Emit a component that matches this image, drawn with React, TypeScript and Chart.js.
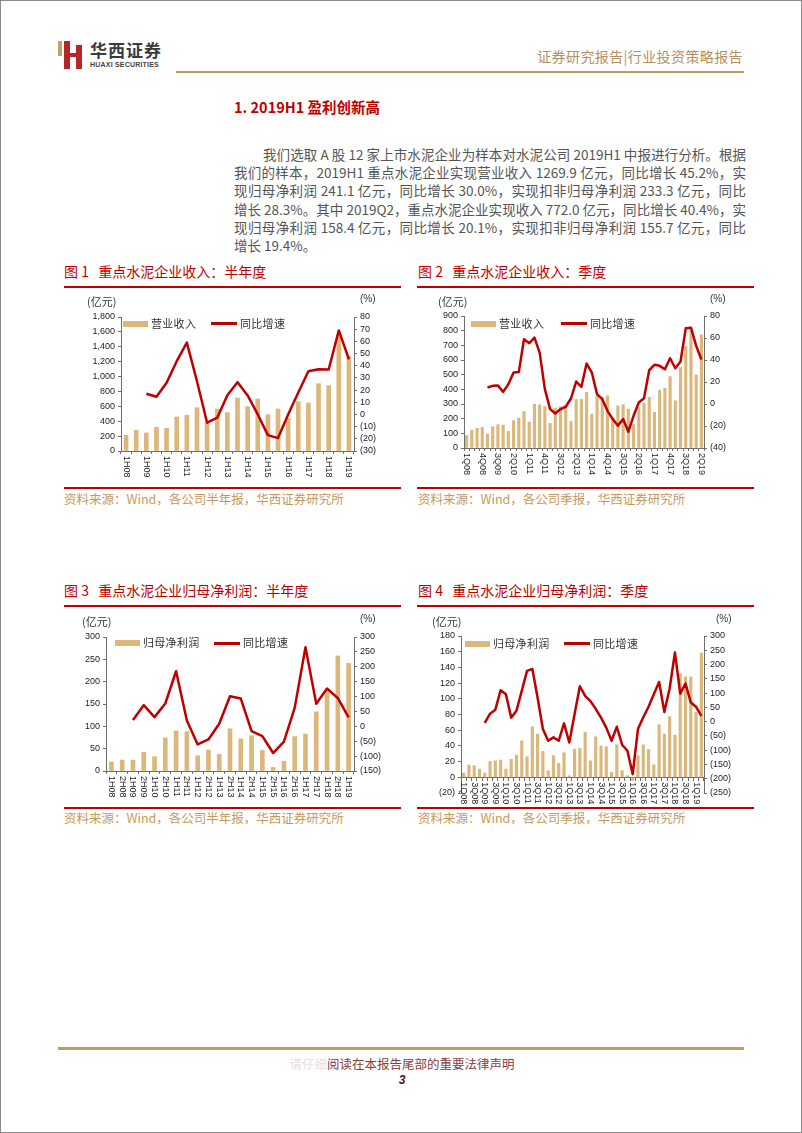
import React, { useEffect, useRef } from "react";
import { Chart, registerables } from "chart.js";
Chart.register(...registerables);

// ---------------- DATA ----------------
const HALF_CATS = ["1H08","2H08","1H09","2H09","1H10","2H10","1H11","2H11","1H12","2H12","1H13","2H13","1H14","2H14","1H15","2H15","1H16","2H16","1H17","2H17","1H18","2H18","1H19"];
const QUARTER_CATS = ["1Q08","2Q08","3Q08","4Q08","1Q09","2Q09","3Q09","4Q09","1Q10","2Q10","3Q10","4Q10","1Q11","2Q11","3Q11","4Q11","1Q12","2Q12","3Q12","4Q12","1Q13","2Q13","3Q13","4Q13","1Q14","2Q14","3Q14","4Q14","1Q15","2Q15","3Q15","4Q15","1Q16","2Q16","3Q16","4Q16","1Q17","2Q17","3Q17","4Q17","1Q18","2Q18","3Q18","4Q18","1Q19","2Q19"];

// Fig 1: revenue, half-year (亿元) and YoY (%)
const REV_HALF = [210,278,242,318,304,457,479,582,385,564,515,712,596,699,488,564,440,663,645,905,878,1567,1270];
const REV_HALF_YOY = [null,null,17,14.5,26,43.7,59,27.3,-6.8,-2.7,15.8,26.5,15.6,0,-17,-19.4,0,18,35.5,37.1,36.9,69,45.2];

// Fig 2: revenue, quarterly
const REV_Q = [84,122,134,140,95,145,159,156,113,186,204,249,177,299,295,283,168,272,281,281,181,331,331,379,231,356,345,356,210,288,295,265,160,277,306,345,243,394,408,487,322,549,694,800,498,772];
const REV_Q_YOY = [null,null,null,null,15,16.5,16.8,11,18,28.6,29,58.8,55.2,60.4,46.7,13.5,-4.6,-8.6,-4.6,-2.5,5,20.4,15.6,36.8,28.6,9,4.4,-6.2,-13.7,-19.8,-13.7,-25.2,-10.7,1.4,5.3,30.7,35.6,34.7,31.6,41.6,32.5,38.6,68.8,69.4,52.8,40.4];

// Fig 3: net profit attributable, half-year
const NP_HALF = [20,24.6,24.6,42,32,74,90,88,34,47,37,94.5,72,79,46,8,22,77,82.6,132.5,178.7,257.6,241.1];
const NP_HALF_YOY = [null,null,21,71,31,76.7,185,19.7,-60.7,-44,8.6,101,93.4,-16,-32.7,-89.7,-51.7,62,265.4,75.6,127,94.5,30];

// Fig 4: net profit attributable, quarterly
const NP_Q = [5.4,15.6,14.7,10.5,5.4,20.2,21,22,10.5,22.8,28.3,46.5,26.2,64.3,55,33,8.4,27.5,17.7,31.3,2,36,36.8,57.5,21,51.6,40,39,6.3,41.4,8.4,2,-4,27.5,41.4,35.5,16,66.9,55,77.5,53.7,132,127.9,127.9,82.7,158.4];
const NP_Q_YOY = [null,null,null,null,-4,28,42,110,96,14,38,108,178,185,84,-26,-67,-55,-67,-6,-73,26,124,90,72,45,14,-21,-67,-18,-81,-102,-184,-26,15,52,96,139,34,117,242,98,133,67,52,20];

// axis ranges [min, max, step]
const AX1_LEFT = [0, 1800, 200];
const AX1_RIGHT = [-30, 80, 10];
const AX2_LEFT = [0, 900, 100];
const AX2_RIGHT = [-40, 80, 20];
const AX3_LEFT = [0, 300, 50];
const AX3_RIGHT = [-150, 300, 50];
const AX4_LEFT = [-20, 180, 20];
const AX4_RIGHT = [-250, 300, 50];

// ---------------- STYLE ----------------
const RED = "#c00000";
const TAN = "#dcb77c";
const AXIS = "#6e6e6e";
const TICK = "#222222";
const NUM_FONT = "'Liberation Sans', Arial, sans-serif";
const CJK = "'Noto Sans CJK SC', sans-serif";
const LABELS_CW = true;

const fmtNum = (v: number) => {
  const a = Math.abs(v);
  let s = a >= 1000 ? `${Math.floor(a / 1000)},${String(a % 1000).padStart(3, "0")}` : String(a);
  return v < 0 ? `(${s})` : s;
};

type Cfg = {
  left: number; top: number; width: number; height: number;
  pl: number; pr: number; pt: number; pb: number;
  cats: string[]; bars: number[]; line: (number | null)[];
  yl: number[]; yr: number[]; every: number; barW: number; zero?: boolean;
};

function ComboChart({ cfg }: { cfg: Cfg }) {
  const ref = useRef<HTMLCanvasElement>(null);
  useEffect(() => {
    const labelPlugin = {
      id: "xLabelsRot",
      afterDraw(chart: any) {
        const ctx = chart.ctx;
        const xs = chart.scales.x;
        const ys = chart.scales.y;
        const base = cfg.zero ? ys.getPixelForValue(0) : chart.chartArea.bottom;
        ctx.save();
        ctx.font = `9px ${NUM_FONT}`;
        ctx.fillStyle = TICK;
        ctx.textBaseline = "middle";
        cfg.cats.forEach((lab, i) => {
          if (i % cfg.every !== 0) return;
          const x = xs.getPixelForValue(i);
          ctx.save();
          ctx.translate(x, base + 5);
          if (LABELS_CW) { ctx.rotate(Math.PI / 2); ctx.textAlign = "left"; }
          else { ctx.rotate(-Math.PI / 2); ctx.textAlign = "right"; }
          ctx.fillText(lab, 0, 0);
          ctx.restore();
        });
        ctx.restore();
      },
    };
    const tickFont = { family: NUM_FONT, size: 9 };
    const gridOpts = { display: true, drawOnChartArea: false, drawTicks: true, tickLength: 3, color: AXIS, lineWidth: 1 };
    const chart = new Chart(ref.current as HTMLCanvasElement, {
      type: "bar",
      data: {
        labels: cfg.cats,
        datasets: [
          { type: "line", data: cfg.line, yAxisID: "y1", borderColor: RED, backgroundColor: RED, borderWidth: 2.5, pointRadius: 0, tension: 0, order: 0, borderJoinStyle: "round" } as any,
          { type: "bar", data: cfg.bars, yAxisID: "y", backgroundColor: TAN, barThickness: cfg.barW, order: 1 } as any,
        ],
      },
      options: {
        animation: false,
        responsive: false,
        maintainAspectRatio: false,
        layout: { padding: { top: cfg.pt, left: 0, right: 0, bottom: cfg.zero ? cfg.pb : 0 } },
        plugins: { legend: { display: false }, tooltip: { enabled: false } },
        scales: {
          x: {
            position: cfg.zero ? ({ y: 0 } as any) : "bottom",
            offset: true,
            grid: { ...gridOpts, offset: true },
            border: { display: true, color: AXIS, width: 1 },
            ticks: { display: false, autoSkip: false },
            afterFit: cfg.zero ? undefined : (s: any) => { s.height = cfg.pb; },
          },
          y: {
            position: "left",
            min: cfg.yl[0], max: cfg.yl[1],
            ticks: { stepSize: cfg.yl[2], autoSkip: false, font: tickFont, color: TICK, padding: 3, callback: (v: any) => fmtNum(Number(v)) },
            grid: gridOpts,
            border: { display: true, color: AXIS, width: 1 },
            afterFit: (s: any) => { s.width = cfg.pl; },
          },
          y1: {
            position: "right",
            min: cfg.yr[0], max: cfg.yr[1],
            ticks: { stepSize: cfg.yr[2], autoSkip: false, font: tickFont, color: TICK, padding: 3, callback: (v: any) => fmtNum(Number(v)) },
            grid: gridOpts,
            border: { display: true, color: AXIS, width: 1 },
            afterFit: (s: any) => { s.width = cfg.pr; },
          },
        },
      } as any,
      plugins: [labelPlugin],
    });
    return () => chart.destroy();
  }, []);
  return (
    <canvas
      ref={ref}
      width={cfg.width}
      height={cfg.height}
      style={{ position: "absolute", left: cfg.left, top: cfg.top, width: cfg.width, height: cfg.height }}
    />
  );
}

const abs = (l: number, t: number, extra: any = {}) => ({ position: "absolute" as const, left: l, top: t, ...extra });

function Txt({ l, t, size, color = "#333", font = CJK, children, extra = {} }: any) {
  return (
    <div style={abs(l, t, { fontSize: size, lineHeight: `${size}px`, color, fontFamily: font, whiteSpace: "pre", ...extra })}>
      {children}
    </div>
  );
}

function Bar({ l, t, w, h, c }: any) {
  return <div style={abs(l, t, { width: w, height: h, background: c })} />;
}

function Legend({ x0, y, b, label1 }: any) {
  return (
    <>
      <Bar l={x0} t={y - 3} w={25} h={6} c={TAN} />
      <Txt l={x0 + 28} t={y - 6} size={11} color="#333" extra={{ letterSpacing: 0.3 }}>{label1}</Txt>
      <Bar l={b} t={y - 1.25} w={26} h={2.5} c={RED} />
      <Txt l={b + 29} t={y - 6} size={11} color="#333" extra={{ letterSpacing: 0.3 }}>同比增速</Txt>
    </>
  );
}

const PARA = [
  "我们选取 A 股 12 家上市水泥企业为样本对水泥公司 2019H1 中报进行分析。根据",
  "我们的样本，2019H1 重点水泥企业实现营业收入 1269.9 亿元，同比增长 45.2%，实",
  "现归母净利润 241.1 亿元，同比增长 30.0%，实现扣非归母净利润 233.3 亿元，同比",
  "增长 28.3%。其中 2019Q2，重点水泥企业实现收入 772.0 亿元，同比增长 40.4%，实",
  "现归母净利润 158.4 亿元，同比增长 20.1%，实现扣非归母净利润 155.7 亿元，同比",
  "增长 19.4%。",
];

export default function App() {
  const c1: Cfg = { left: 63, top: 290, width: 330, height: 200, pl: 57, pr: 40, pt: 26, pb: 40, cats: HALF_CATS, bars: REV_HALF, line: REV_HALF_YOY, yl: AX1_LEFT, yr: AX1_RIGHT, every: 2, barW: 4 };
  const c2: Cfg = { left: 417, top: 290, width: 330, height: 200, pl: 46, pr: 44, pt: 25, pb: 43, cats: QUARTER_CATS, bars: REV_Q, line: REV_Q_YOY, yl: AX2_LEFT, yr: AX2_RIGHT, every: 3, barW: 2.5 };
  const c3: Cfg = { left: 63, top: 610, width: 330, height: 195, pl: 42, pr: 40, pt: 26, pb: 35, cats: HALF_CATS, bars: NP_HALF, line: NP_HALF_YOY, yl: AX3_LEFT, yr: AX3_RIGHT, every: 1, barW: 4 };
  const c4: Cfg = { left: 417, top: 610, width: 330, height: 195, pl: 43, pr: 44, pt: 25, pb: 13, cats: QUARTER_CATS, bars: NP_Q, line: NP_Q_YOY, yl: AX4_LEFT, yr: AX4_RIGHT, every: 2, barW: 2.5, zero: true };

  return (
    <div style={{ position: "absolute", left: 0, top: 0, width: 802, height: 1133, background: "#fff", overflow: "hidden", boxSizing: "border-box", border: "1px solid #8a8a8a" }}>
      {/* logo */}
      <Bar l={57} t={40} w={4} h={15} c="#c9a063" />
      <Bar l={63} t={40} w={6} h={28} c="#b5262b" />
      <Bar l={75} t={44} w={6} h={24} c="#b5262b" />
      <Bar l={63} t={52} w={18} h={4} c="#b5262b" />
      <Txt l={89} t={40} size={17} color="#3b3b3b" extra={{ fontWeight: 700, letterSpacing: 1 }}>华西证券</Txt>
      <Txt l={89} t={60} size={7} color="#444" font={NUM_FONT} extra={{ fontWeight: 700, letterSpacing: 0.2 }}>HUAXI SECURITIES</Txt>
      <div style={abs(0, 48, { width: 742, textAlign: "right", fontSize: 14, lineHeight: "14px", color: "#b38f62", fontFamily: CJK, letterSpacing: 0.4 })}>证券研究报告|行业投资策略报告</div>
      <Bar l={175} t={70} w={568} h={2} c="#c8975c" />

      {/* title */}
      <Txt l={233} t={99} size={14.5} color={RED} extra={{ fontWeight: 700 }}>1. 2019H1 盈利创新高</Txt>

      {/* paragraph */}
      {PARA.map((line, i) => (
        <div key={i} style={abs(233, 144 + i * 18.2, {
          width: 512, fontSize: 13.5, lineHeight: "18px", color: "#555", fontFamily: CJK,
          textAlign: i < PARA.length - 1 ? "justify" : "left", textAlignLast: i < PARA.length - 1 ? "justify" : "left",
          paddingLeft: i === 0 ? 29 : 0, boxSizing: "border-box", whiteSpace: "nowrap",
        })}>{line}</div>
      ))}

      {/* captions & frame lines row 1 */}
      <Txt l={63} t={263} size={14} color={RED}>{"图 1   重点水泥企业收入：半年度"}</Txt>
      <Txt l={417} t={263} size={14} color={RED}>{"图 2   重点水泥企业收入：季度"}</Txt>
      <Bar l={63} t={285} w={337} h={2} c={RED} />
      <Bar l={416} t={285} w={337} h={2} c={RED} />
      <Bar l={63} t={486} w={337} h={2} c={RED} />
      <Bar l={416} t={486} w={337} h={2} c={RED} />
      <Txt l={63} t={492} size={12.5} color="#c49a5c">资料来源：Wind，各公司半年报，华西证券研究所</Txt>
      <Txt l={417} t={492} size={12.5} color="#c49a5c">资料来源：Wind，各公司季报，华西证券研究所</Txt>

      {/* captions & frame lines row 2 */}
      <Txt l={63} t={582} size={14} color={RED}>{"图 3   重点水泥企业归母净利润：半年度"}</Txt>
      <Txt l={417} t={582} size={14} color={RED}>{"图 4   重点水泥企业归母净利润：季度"}</Txt>
      <Bar l={63} t={604} w={337} h={2} c={RED} />
      <Bar l={416} t={604} w={337} h={2} c={RED} />
      <Bar l={63} t={806} w={337} h={2} c={RED} />
      <Bar l={416} t={806} w={337} h={2} c={RED} />
      <Txt l={63} t={811} size={12.5} color="#c49a5c">资料来源：Wind，各公司半年报，华西证券研究所</Txt>
      <Txt l={417} t={811} size={12.5} color="#c49a5c">资料来源：Wind，各公司季报，华西证券研究所</Txt>

      {/* charts */}
      <ComboChart cfg={c1} />
      <ComboChart cfg={c2} />
      <ComboChart cfg={c3} />
      <ComboChart cfg={c4} />

      {/* axis titles */}
      <Txt l={86} t={295} size={11}>(亿元)</Txt>
      <Txt l={359} t={293} size={10} font={NUM_FONT}>(%)</Txt>
      <Txt l={437} t={295} size={11}>(亿元)</Txt>
      <Txt l={709} t={293} size={10} font={NUM_FONT}>(%)</Txt>
      <Txt l={81} t={615} size={11}>(亿元)</Txt>
      <Txt l={359} t={613} size={10} font={NUM_FONT}>(%)</Txt>
      <Txt l={431} t={615} size={11}>(亿元)</Txt>
      <Txt l={715} t={613} size={10} font={NUM_FONT}>(%)</Txt>

      {/* legends */}
      <Legend x0={122} y={322.5} b={210} label1="营业收入" />
      <Legend x0={470} y={322.7} b={560} label1="营业收入" />
      <Legend x0={114} y={642.3} b={213} label1="归母净利润" />
      <Legend x0={464} y={642.7} b={563} label1="归母净利润" />

      {/* footer */}
      <Bar l={57} t={1046} w={686} h={3} c="#c8975c" />
      <div style={abs(0, 1056, { width: 802, textAlign: "center", fontSize: 12.5, lineHeight: "14px", color: "#8a3c3c", fontFamily: CJK })}>
        <span style={{ color: "#eadede" }}>请仔细</span>阅读在本报告尾部的重要法律声明
      </div>
      <div style={abs(0, 1072, { width: 802, textAlign: "center", fontSize: 12, lineHeight: "14px", color: "#4a1818", fontFamily: NUM_FONT, fontWeight: 700, fontStyle: "italic" })}>3</div>
    </div>
  );
}
